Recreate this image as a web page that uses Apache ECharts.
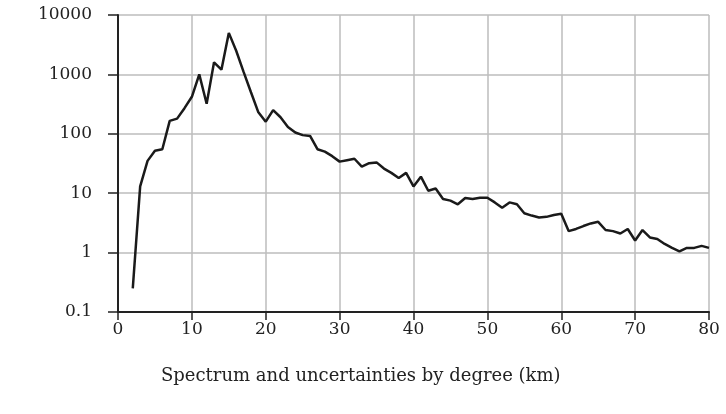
<!DOCTYPE html>
<html>
<head>
<meta charset="utf-8">
<script src="https://cdn.jsdelivr.net/npm/echarts@6/dist/echarts.min.js"></script>
<style>
html,body{margin:0;padding:0;background:#fff;}
#chart{width:726px;height:414px;}
</style>
</head>
<body>
<div id="chart"></div>
<script>
var degrees = [2,3,4,5,6,7,8,9,10,11,12,13,14,15,16,17,18,19,20,21,22,23,24,25,26,27,28,29,30,31,32,33,34,35,36,37,38,39,40,41,42,43,44,45,46,47,48,49,50,51,52,53,54,55,56,57,58,59,60,61,62,63,64,65,66,67,68,69,70,71,72,73,74,75,76,77,78,79,80];
var spectrum = [0.25,13,35,52,55,165,180,270,420,1000,320,1600,1200,5000,2500,1100,500,230,160,250,190,130,105,95,92,55,50,42,34,36,38,28,32,33,26,22,18,22,13,19,11,12,8,7.5,6.5,8.3,8,8.4,8.4,7,5.7,7,6.5,4.6,4.2,3.9,4.0,4.3,4.5,2.3,2.5,2.8,3.1,3.3,2.4,2.3,2.1,2.5,1.6,2.4,1.8,1.7,1.4,1.2,1.05,1.2,1.2,1.3,1.2];
var xTicks = [0,10,20,30,40,50,60,70,80];
var yTicks = [0.1,1,10,100,1000,10000];
var xTitle = 'Spectrum and uncertainties by degree (km)';

var chart = echarts.init(document.getElementById('chart'), null, {renderer:'canvas'});
var font = 'DejaVu Serif';
chart.setOption({
  animation:false,
  backgroundColor:'#ffffff',
  title:{text:xTitle, left:161, top:367, padding:0,
    textStyle:{fontFamily:font, fontSize:18, fontWeight:'normal', color:'#222'}},
  grid:{left:118, right:17, top:15, bottom:102, containLabel:false},
  xAxis:{
    type:'value', min:xTicks[0], max:xTicks[xTicks.length-1], interval:10,
    axisLine:{show:true, onZero:false, lineStyle:{color:'#222', width:2}},
    axisTick:{show:true, length:8, lineStyle:{color:'#222', width:1.5}},
    axisLabel:{fontFamily:font, fontSize:17, color:'#222', margin:9},
    splitLine:{show:true, lineStyle:{color:'#bdbdbd', width:1.5}}
  },
  yAxis:{
    type:'log', logBase:10, min:yTicks[0], max:yTicks[yTicks.length-1],
    axisLine:{show:true, lineStyle:{color:'#222', width:2}},
    axisTick:{show:true, length:10, lineStyle:{color:'#222', width:1.5}},
    minorTick:{show:false},
    axisLabel:{fontFamily:font, fontSize:17, color:'#222', margin:26,
      formatter:function(v){ return String(Math.round(v*10)/10); }},
    splitLine:{show:true, lineStyle:{color:'#bdbdbd', width:1.5}}
  },
  series:[{
    type:'line',
    data:degrees.map(function(d,i){return [d, spectrum[i]];}),
    showSymbol:false,
    lineStyle:{color:'#1a1a1a', width:2.5},
    smooth:false
  }]
});
</script>
</body>
</html>
